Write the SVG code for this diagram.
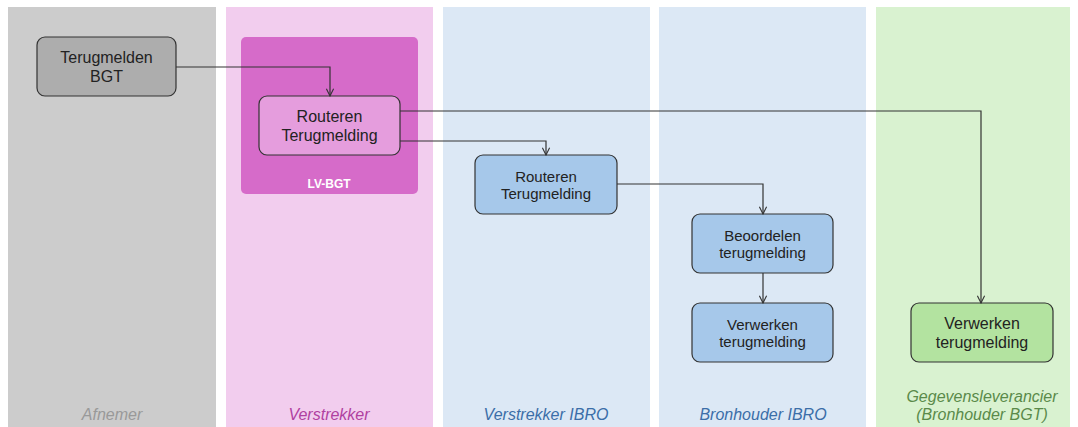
<svg xmlns="http://www.w3.org/2000/svg" width="1078" height="427" viewBox="0 0 1078 427">
<defs>
<marker id="arr" viewBox="0 0 10 10" refX="9" refY="5" markerWidth="9" markerHeight="9" markerUnits="userSpaceOnUse" orient="auto">
<path d="M1,1 L9,5 L1,9" fill="none" stroke="#333" stroke-width="1.2"/>
</marker>
<style>
.node{stroke:#333;stroke-width:1.2}
.t{font-family:"Liberation Sans",Arial,sans-serif;font-size:16px;fill:#222;text-anchor:middle}
.tb{font-family:"Liberation Sans",Arial,sans-serif;font-size:15px;fill:#222;text-anchor:middle}
.lane{font-family:"Liberation Sans",Arial,sans-serif;font-size:16px;font-style:italic;text-anchor:middle}
.c{fill:none;stroke:#333;stroke-width:1.2;marker-end:url(#arr)}
</style>
</defs>
<rect width="1078" height="427" fill="#ffffff"/>
<g id="lane-afnemer">
<rect x="8" y="7" width="208" height="420" fill="#cccccc"/>
<text class="lane" x="112" y="420" fill="#999999">Afnemer</text>
</g>
<g id="lane-verstrekker">
<rect x="226" y="7" width="207" height="420" fill="#f2cdee"/>
<text class="lane" x="329" y="420" fill="#b040a0">Verstrekker</text>
</g>
<g id="lane-verstrekker-ibro">
<rect x="443" y="7" width="207" height="420" fill="#dce8f5"/>
<text class="lane" x="546" y="420" fill="#3b6ea8">Verstrekker IBRO</text>
</g>
<g id="lane-bronhouder-ibro">
<rect x="659" y="7" width="207" height="420" fill="#dce8f5"/>
<text class="lane" x="763" y="420" fill="#3b6ea8">Bronhouder IBRO</text>
</g>
<g id="lane-gegevensleverancier">
<rect x="876" y="7" width="194" height="420" fill="#d9f2d0"/>
<text class="lane" x="982" y="402" fill="#5a8a4a">Gegevensleverancier</text>
<text class="lane" x="982" y="420" fill="#5a8a4a">(Bronhouder BGT)</text>
</g>
<g id="lv-bgt">
<rect x="241" y="37" width="177" height="157" rx="5" fill="#d66bc9"/>
<text x="329" y="188" font-family="'Liberation Sans',Arial,sans-serif" font-size="12" font-weight="bold" fill="#ffffff" text-anchor="middle">LV-BGT</text>
</g>
<g id="terugmelden-bgt">
<rect class="node" x="37" y="37" width="139" height="59" rx="8" fill="#adadad"/>
<text class="t" x="106.5" y="63">Terugmelden</text>
<text class="t" x="106.5" y="82">BGT</text>
</g>
<g id="routeren-lv">
<rect class="node" x="259" y="96" width="141" height="59" rx="8" fill="#e59ddd"/>
<text class="t" x="329.5" y="122">Routeren</text>
<text class="t" x="329.5" y="141">Terugmelding</text>
</g>
<g id="routeren-ibro">
<rect class="node" x="475" y="155" width="142" height="59" rx="8" fill="#a6c8ea"/>
<text class="tb" x="546" y="182">Routeren</text>
<text class="tb" x="546" y="199">Terugmelding</text>
</g>
<g id="beoordelen">
<rect class="node" x="692" y="214" width="141" height="59" rx="8" fill="#a6c8ea"/>
<text class="tb" x="762.5" y="241">Beoordelen</text>
<text class="tb" x="762.5" y="258">terugmelding</text>
</g>
<g id="verwerken-ibro">
<rect class="node" x="692" y="303" width="141" height="59" rx="8" fill="#a6c8ea"/>
<text class="tb" x="762.5" y="330">Verwerken</text>
<text class="tb" x="762.5" y="347">terugmelding</text>
</g>
<g id="verwerken-bgt">
<rect class="node" x="911" y="303" width="142" height="59" rx="8" fill="#b3e3a0"/>
<text class="t" x="982" y="329">Verwerken</text>
<text class="t" x="982" y="348">terugmelding</text>
</g>
<g id="connectors">
<path class="c" d="M176,67 H330 V96"/>
<path class="c" d="M400,111 H981 V303"/>
<path class="c" d="M400,141 H546 V155"/>
<path class="c" d="M617,184 H763 V214"/>
<path class="c" d="M763,273 V303"/>
</g>
</svg>
